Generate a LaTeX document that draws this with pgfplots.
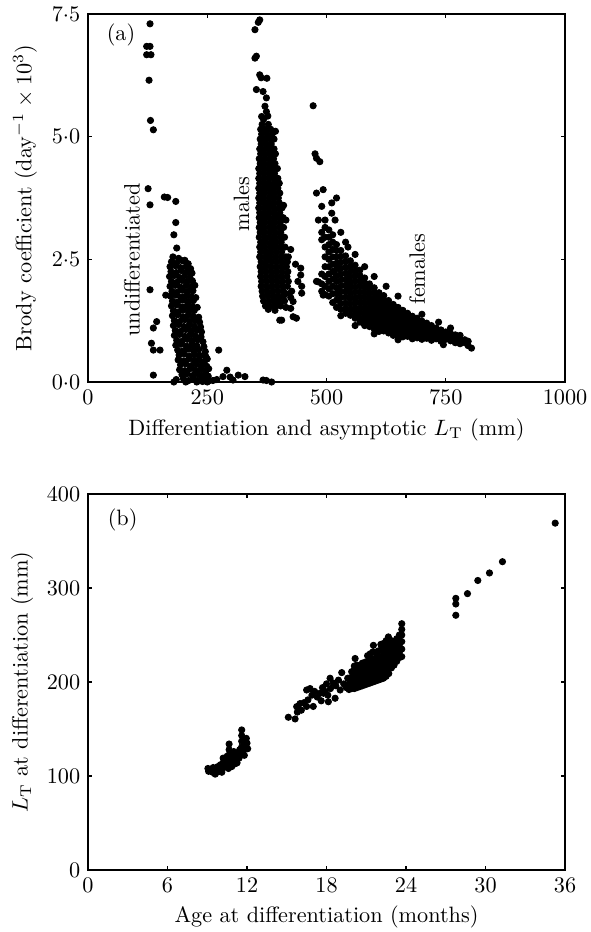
\documentclass[border=0pt]{standalone}
\usepackage{pgfplots}
\pgfplotsset{compat=1.18}
\pgfplotsset{
  panel/.style={scale only axis, width=214.65pt, anchor=south west,
    tick align=inside, xtick pos=both, ytick pos=both,
    major tick length=1.8pt, axis line style={line width=0.6pt},
    every tick/.style={black, line width=0.5pt},
    /pgf/number format/1000 sep={}},
  dots/.style={only marks, mark=*, mark size=1.4pt, black}
}
\begin{document}
\begin{tikzpicture}
% (a) Brody coefficient against length
\begin{axis}[panel, at={(39.6pt,247.5pt)}, height=165.6pt,
  xmin=0, xmax=1000, ymin=0, ymax=7.5,
  xtick={0,250,500,750,1000}, ytick={0,2.5,5,7.5},
  yticklabels={$0{\cdot}0$,$2{\cdot}5$,$5{\cdot}0$,$7{\cdot}5$},
  xlabel={Differentiation and asymptotic $L_{\mathrm{T}}$ (mm)},
  ylabel={Brody coefficient (day$^{-1}\times 10^{3}$)},
  x label style={at={(axis description cs:0.5,-0.13)}, anchor=center},
  y label style={at={(axis description cs:-0.132,0.5)}, anchor=center}]
% undifferentiated, scattered
\addplot[dots] coordinates {
(130,7.30) (123,6.84) (130,6.84) (123,6.67) (132,6.67) (128,6.15) (131,5.33) (137,5.14)
(126,3.94) (130,3.61) (160,3.77) (167,3.76) (184,3.68) (184,3.25) (180,3.0) (186,2.73)
(130,1.88) (137,1.10) (144,1.23) (133,0.79) (137,0.65) (151,0.65) (137,0.14) (163,1.77)
(274,0.65) (291,0.24) (283,0.11) (298,0.10) (315,0.14) (329,0.11) (304,0.04) (262,0.03)
(270,0.05) (367,0.04) (374,0.03) (385,0.0)};
% undifferentiated, main cluster
\addplot[dots] coordinates {
(178,2.55) (190,2.52) (203,2.48)
(175,2.45) (186,2.43) (198,2.47) (210,2.41)
(172,2.35) (183,2.37) (194,2.33) (206,2.36) (215,2.31)
(174,2.25) (185,2.23) (196,2.27) (207,2.24) (218,2.22)
(171,2.15) (181,2.17) (192,2.13) (203,2.16) (214,2.12)
(175,2.05) (186,2.03) (197,2.07) (208,2.04) (219,2.06)
(172,1.95) (183,1.97) (194,1.93) (205,1.96) (216,1.94) (224,1.97)
(176,1.85) (187,1.83) (198,1.87) (209,1.84) (220,1.86)
(173,1.75) (184,1.77) (195,1.73) (206,1.76) (217,1.74) (226,1.72)
(177,1.65) (188,1.63) (199,1.67) (210,1.64) (221,1.66)
(175,1.55) (186,1.57) (197,1.53) (208,1.56) (219,1.54) (229,1.52)
(179,1.45) (190,1.43) (201,1.47) (212,1.44) (223,1.46)
(177,1.35) (188,1.37) (199,1.33) (210,1.36) (221,1.34) (232,1.32)
(181,1.25) (192,1.23) (203,1.27) (214,1.24) (225,1.26) (234,1.22)
(179,1.15) (190,1.17) (201,1.13) (212,1.16) (223,1.14) (236,1.12)
(183,1.05) (194,1.03) (205,1.07) (216,1.04) (227,1.06) (238,1.02)
(181,0.95) (192,0.97) (203,0.93) (214,0.96) (225,0.94) (237,0.92)
(186,0.85) (197,0.83) (208,0.87) (219,0.84) (230,0.86) (241,0.82)
(184,0.75) (195,0.77) (206,0.73) (217,0.76) (228,0.74) (243,0.72)
(188,0.65) (199,0.63) (210,0.67) (221,0.64) (232,0.66) (246,0.62)
(191,0.55) (202,0.57) (213,0.53) (224,0.56) (235,0.54) (247,0.52)
(189,0.45) (200,0.43) (211,0.47) (222,0.44) (233,0.46) (244,0.42) (250,0.47)
(194,0.35) (205,0.37) (216,0.33) (227,0.36) (238,0.34) (249,0.32)
(192,0.25) (203,0.23) (214,0.27) (225,0.24) (236,0.26) (247,0.22) (253,0.27)
(197,0.15) (208,0.17) (219,0.13) (230,0.16) (241,0.14) (252,0.12)
(185,0.05) (200,0.07) (211,0.03) (222,0.06) (233,0.04) (244,0.06) (255,0.03)
(180,0.0) (205,0.0) (228,0.0) (240,0.01) (250,0.0)};
% males
\addplot[dots] coordinates {
(350,7.18) (357,7.33) (360,7.38) (353,6.64) (350,6.60) (360,6.26) (363,6.20) (375,6.19)
(353,5.96) (367,5.92) (374,5.79) (371,5.62) (374,5.51) (364,5.41) (377,5.42) (368,5.35)
(393,5.11)
(365,5.25) (378,5.25)
(362,5.15) (372,5.15) (383,5.15)
(364,5.05) (375,5.05) (386,5.05)
(361,4.95) (371,4.95) (381,4.95) (390,4.95)
(363,4.85) (373,4.85) (384,4.85)
(360,4.75) (370,4.75) (380,4.75) (390,4.75)
(362,4.65) (372,4.65) (383,4.65) (393,4.65)
(359,4.55) (369,4.55) (379,4.55) (389,4.55)
(361,4.45) (371,4.45) (382,4.45) (392,4.45)
(358,4.35) (368,4.35) (378,4.35) (388,4.35) (397,4.35)
(360,4.25) (370,4.25) (381,4.25) (391,4.25)
(358,4.15) (368,4.15) (378,4.15) (388,4.15) (398,4.15)
(360,4.05) (370,4.05) (380,4.05) (391,4.05) (401,4.05)
(358,3.95) (368,3.95) (378,3.95) (388,3.95) (398,3.95)
(360,3.85) (370,3.85) (381,3.85) (391,3.85) (402,3.85)
(358,3.75) (368,3.75) (379,3.75) (389,3.75) (399,3.75)
(360,3.65) (370,3.65) (380,3.65) (390,3.65) (401,3.65)
(358,3.55) (369,3.55) (379,3.55) (389,3.55) (400,3.55) (407,3.55)
(360,3.45) (371,3.45) (381,3.45) (391,3.45) (402,3.45)
(359,3.35) (369,3.35) (379,3.35) (390,3.35) (400,3.35) (409,3.35)
(361,3.25) (371,3.25) (382,3.25) (392,3.25) (403,3.25)
(359,3.15) (369,3.15) (380,3.15) (390,3.15) (401,3.15) (410,3.15)
(361,3.05) (371,3.05) (382,3.05) (393,3.05) (404,3.05)
(359,2.95) (370,2.95) (380,2.95) (391,2.95) (402,2.95) (412,2.95)
(362,2.85) (372,2.85) (383,2.85) (394,2.85) (405,2.85)
(360,2.75) (370,2.75) (381,2.75) (392,2.75) (403,2.75) (413,2.75)
(362,2.65) (373,2.65) (384,2.65) (395,2.65) (406,2.65)
(360,2.55) (371,2.55) (382,2.55) (393,2.55) (404,2.55) (415,2.55)
(363,2.45) (374,2.45) (385,2.45) (396,2.45) (407,2.45) (418,2.45)
(361,2.35) (372,2.35) (383,2.35) (394,2.35) (405,2.35) (416,2.35)
(363,2.25) (374,2.25) (385,2.25) (396,2.25) (407,2.25) (419,2.25)
(362,2.15) (373,2.15) (384,2.15) (395,2.15) (406,2.15) (417,2.15)
(364,2.05) (375,2.05) (386,2.05) (397,2.05) (408,2.05) (420,2.05)
(363,1.95) (374,1.95) (385,1.95) (396,1.95) (407,1.95) (418,1.95)
(365,1.85) (376,1.85) (387,1.85) (398,1.85) (409,1.85) (422,1.80)
(366,1.75) (377,1.75) (388,1.75) (399,1.75) (410,1.75) (425,1.72)
(368,1.65) (379,1.65) (390,1.65) (401,1.65) (412,1.65)
(372,1.55) (383,1.55) (394,1.55) (404,1.55) (415,1.52)
(378,1.48) (392,1.46)
(446,2.32) (446,2.18) (448,1.95) (448,1.81) (430,1.64) (430,1.33) (437,1.30) (402,1.26)
(413,1.81) (427,1.85) (420,2.55) (425,2.70) (415,3.30) (410,3.60) (425,1.50) (406,1.26)
(440,2.05) (435,2.40)};
% females
\addplot[dots] coordinates {
(472,5.63) (476,4.65) (479,4.56) (486,4.49) (479,3.85) (493,3.92) (490,3.58) (483,3.30)
(521,3.75) (511,3.65) (511,3.44) (518,3.30) (483,2.04) (493,1.77) (479,2.05)
(530,3.05) (540,2.85) (545,2.75) (560,2.60) (580,2.35) (600,2.15) (625,1.95) (650,1.75)
(700,1.38) (735,1.22) (760,1.10) (530,1.35) (560,1.15) (600,0.98) (650,0.86) (745,0.76)
(490,3.05) (490,2.90) (490,2.20) (490,2.00) (490,1.85)
(497,3.30) (497,3.15) (497,2.95) (497,2.75) (497,2.55) (497,2.35) (497,2.15) (497,1.95) (497,1.78)
(505,3.10) (505,2.95) (505,2.80) (505,2.65) (505,2.50) (505,2.35) (505,2.20) (505,2.05) (505,1.90) (505,1.75)
(513,3.00) (513,2.85) (513,2.70) (513,2.55) (513,2.40) (513,2.25) (513,2.10) (513,1.95) (513,1.80) (513,1.62)
(521,2.80) (521,2.68) (521,2.55) (521,2.42) (521,2.30) (521,2.17) (521,2.05) (521,1.92) (521,1.80) (521,1.67) (521,1.52)
(530,2.68) (530,2.56) (530,2.44) (530,2.32) (530,2.20) (530,2.08) (530,1.96) (530,1.84) (530,1.72) (530,1.60) (530,1.48)
(540,2.57) (540,2.45) (540,2.33) (540,2.21) (540,2.09) (540,1.97) (540,1.85) (540,1.73) (540,1.61) (540,1.50) (540,1.40)
(550,2.47) (550,2.36) (550,2.25) (550,2.14) (550,2.03) (550,1.92) (550,1.81) (550,1.70) (550,1.59) (550,1.48) (550,1.36)
(560,2.38) (560,2.27) (560,2.16) (560,2.05) (560,1.94) (560,1.83) (560,1.72) (560,1.61) (560,1.50) (560,1.40) (560,1.30)
(570,2.28) (570,2.17) (570,2.06) (570,1.95) (570,1.84) (570,1.73) (570,1.62) (570,1.51) (570,1.41) (570,1.31) (570,1.22)
(580,2.12) (580,2.02) (580,1.92) (580,1.82) (580,1.72) (580,1.62) (580,1.52) (580,1.42) (580,1.33) (580,1.24) (580,1.15)
(590,2.00) (590,1.90) (590,1.80) (590,1.70) (590,1.60) (590,1.50) (590,1.41) (590,1.32) (590,1.23) (590,1.13)
(600,1.92) (600,1.82) (600,1.72) (600,1.62) (600,1.53) (600,1.44) (600,1.35) (600,1.26) (600,1.17) (600,1.08)
(610,1.82) (610,1.73) (610,1.64) (610,1.55) (610,1.46) (610,1.37) (610,1.28) (610,1.19) (610,1.10) (610,1.03)
(620,1.76) (620,1.67) (620,1.58) (620,1.49) (620,1.40) (620,1.31) (620,1.22) (620,1.13) (620,1.04)
(630,1.66) (630,1.58) (630,1.50) (630,1.42) (630,1.34) (630,1.26) (630,1.18) (630,1.10) (630,1.00)
(640,1.58) (640,1.50) (640,1.42) (640,1.34) (640,1.26) (640,1.18) (640,1.10) (640,1.02) (640,0.95)
(650,1.52) (650,1.44) (650,1.36) (650,1.28) (650,1.20) (650,1.12) (650,1.04) (650,0.96)
(660,1.46) (660,1.38) (660,1.30) (660,1.22) (660,1.14) (660,1.06) (660,0.98) (660,0.92)
(670,1.40) (670,1.32) (670,1.24) (670,1.16) (670,1.08) (670,1.00) (670,0.93)
(680,1.34) (680,1.26) (680,1.18) (680,1.10) (680,1.02) (680,0.94) (680,0.88)
(690,1.30) (690,1.21) (690,1.13) (690,1.05) (690,0.97) (690,0.90)
(700,1.24) (700,1.16) (700,1.08) (700,1.00) (700,0.93) (700,0.87)
(710,1.20) (710,1.12) (710,1.04) (710,0.96) (710,0.89)
(720,1.15) (720,1.07) (720,0.99) (720,0.92) (720,0.85)
(730,1.10) (730,1.02) (730,0.95) (730,0.88)
(740,1.06) (740,0.98) (740,0.90) (740,0.83)
(750,1.02) (750,0.94) (750,0.87)
(760,0.99) (760,0.91) (760,0.84)
(770,0.96) (770,0.88) (770,0.80)
(780,0.95) (780,0.86) (780,0.78)
(790,0.86) (790,0.80) (797,0.83) (797,0.74) (804,0.69)};
\node at (axis cs:23,7.08) [anchor=west] {(a)};
\node at (axis cs:92,2.49) [rotate=90] {undifferentiated};
\node at (axis cs:322,3.63) [rotate=90] {males};
\node at (axis cs:690,2.30) [rotate=90] {females};
\end{axis}
% (b) length at differentiation against age
\begin{axis}[panel, at={(39.6pt,27.9pt)}, height=169.2pt,
  xmin=0, xmax=36, ymin=0, ymax=400,
  xtick={0,6,...,36}, ytick={0,100,...,400},
  xlabel={Age at differentiation (months)},
  ylabel={$L_{\mathrm{T}}$ at differentiation (mm)},
  x label style={at={(axis description cs:0.5,-0.125)}, anchor=center},
  y label style={at={(axis description cs:-0.138,0.5)}, anchor=center}]
\addplot[dots] coordinates {
(9.05,108) (9.1,105) (9.25,107) (9.4,104) (9.45,109) (9.6,102) (9.6,107) (9.75,104)
(9.8,110) (9.9,106) (10.0,112) (10.0,108) (10.1,104) (10.2,119) (10.2,114) (10.25,109)
(10.35,112) (10.4,117) (10.5,121) (10.5,113) (10.6,108) (10.65,134) (10.65,128) (10.7,124)
(10.7,118) (10.8,114) (10.85,110) (10.9,122) (11.0,118) (11.0,126) (11.1,113) (11.2,120)
(11.25,114) (11.3,124) (11.4,119) (11.45,128) (11.5,123) (11.6,149) (11.6,143) (11.6,137)
(11.6,131) (11.7,126) (11.8,122) (11.85,130) (12.0,135) (12.05,129) (11.95,140)};
\addplot[dots] coordinates {
(15.12,162.5) (15.63,160.7) (15.75,173.8) (15.8,168) (16.0,177) (16.1,170) (16.3,178)
(16.5,174) (16.5,191.5) (16.6,181) (16.76,193) (16.9,186) (17.0,174) (17.1,190) (17.3,184)
(17.5,188) (17.6,180) (17.7,194) (17.77,188) (17.9,190) (18.0,198) (18.14,179) (18.1,186)
(18.27,204) (18.3,193) (18.5,199) (18.65,182.7) (18.7,196) (18.9,202) (19.03,191.5)
(19.15,210) (19.3,198) (19.5,194) (19.6,204)
(19.7,192) (19.7,198) (19.7,204)
(19.9,193) (19.9,199) (19.9,205) (19.9,211)
(20.1,193) (20.1,199) (20.1,205) (20.1,211) (20.1,217) (20.16,225)
(20.3,194) (20.3,200) (20.3,206) (20.3,212) (20.3,218)
(20.5,195) (20.5,201) (20.5,207) (20.5,213)
(20.7,196) (20.7,202) (20.7,208) (20.7,214) (20.7,220)
(20.9,197) (20.9,203) (20.9,209) (20.9,215) (20.9,221)
(21.1,198) (21.1,204) (21.1,210) (21.1,216) (21.1,222) (21.1,228)
(21.3,199) (21.3,205) (21.3,211) (21.3,217) (21.3,223) (21.3,230)
(21.5,200) (21.5,206) (21.5,212) (21.5,218) (21.5,224) (21.5,232) (21.54,239)
(21.7,201) (21.7,207) (21.7,213) (21.7,219) (21.7,225) (21.7,231)
(21.9,202) (21.9,208) (21.9,214) (21.9,220) (21.9,226) (21.9,233)
(22.1,203) (22.1,209) (22.1,215) (22.1,221) (22.1,227) (22.1,234) (22.1,240)
(22.3,204) (22.3,210) (22.3,216) (22.3,222) (22.3,228) (22.3,235) (22.3,241)
(22.5,206) (22.5,212) (22.5,218) (22.5,224) (22.5,230) (22.5,237) (22.5,244)
(22.7,209) (22.7,215) (22.7,221) (22.7,227) (22.7,233) (22.7,240) (22.67,248)
(22.9,215) (22.9,221) (22.9,227) (22.9,233) (22.9,239) (22.9,244)
(23.1,218) (23.1,224) (23.1,230) (23.1,236) (23.1,242)
(23.3,222) (23.3,228) (23.3,234) (23.3,240) (23.3,246)
(23.5,226) (23.5,232) (23.5,238) (23.5,244) (23.5,250)
(23.68,227) (23.68,235) (23.68,243) (23.68,250) (23.68,256) (23.68,262)};
\addplot[dots] coordinates {
(27.76,289) (27.76,283) (27.76,271) (28.64,294) (29.42,308) (30.3,316) (31.28,328) (35.26,369)};
\node at (axis cs:0.9,372) [anchor=west] {(b)};
\end{axis}
\pgfresetboundingbox
\path (0,0) rectangle (265.5pt,419.4pt);
\end{tikzpicture}
\end{document}
